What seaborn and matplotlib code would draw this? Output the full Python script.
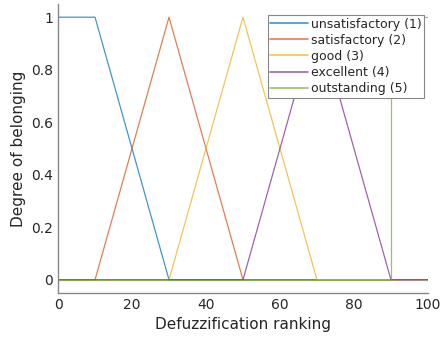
import pandas as pd
import matplotlib
matplotlib.use("Agg")
import matplotlib.pyplot as plt
import seaborn as sns

# membership functions (x breakpoints, y values)
x_unsat = [0, 10, 30, 100]
y_unsat = [1, 1, 0, 0]
x_sat = [0, 10, 30, 50, 100]
y_sat = [0, 0, 1, 0, 0]
x_good = [0, 30, 50, 70, 100]
y_good = [0, 0, 1, 0, 0]
x_exc = [0, 50, 70, 90, 100]
y_exc = [0, 0, 1, 0, 0]
x_out = [0, 90, 90, 100]
y_out = [0, 0, 1, 1]

labels = ["unsatisfactory (1)", "satisfactory (2)", "good (3)", "excellent (4)", "outstanding (5)"]
colors = ["#0072BD", "#D95319", "#EDB120", "#7E2F8E", "#77AC30"]

series = [(x_unsat, y_unsat), (x_sat, y_sat), (x_good, y_good), (x_exc, y_exc), (x_out, y_out)]
frames = [pd.DataFrame({"x": xs, "y": ys, "mf": lab}) for (xs, ys), lab in zip(series, labels)]
df = pd.concat(frames, ignore_index=True)

sns.set_style("white")
plt.rcParams["font.family"] = ["DejaVu Sans"]
fig = plt.figure(figsize=(4.43, 3.39), dpi=100)
ax = fig.add_axes([0.131, 0.136, 0.835, 0.852])

sns.lineplot(data=df, x="x", y="y", hue="mf", hue_order=labels,
             palette=dict(zip(labels, colors)), sort=False, estimator=None,
             linewidth=0.9, alpha=0.75, ax=ax)

ax.set_xlim(0, 100)
ax.set_ylim(-0.05, 1.05)
ax.set_xticks([0, 20, 40, 60, 80, 100])
ax.set_yticks([0, 0.2, 0.4, 0.6, 0.8, 1])
ax.set_yticklabels(["0", "0.2", "0.4", "0.6", "0.8", "1"])
ax.set_xlabel("Defuzzification ranking", fontsize=11, color="#262626")
ax.set_ylabel("Degree of belonging", fontsize=11, color="#262626")
ax.tick_params(direction="in", length=3, labelsize=10, colors="#262626", width=0.6)
for s in ["top", "right"]:
    ax.spines[s].set_visible(False)
for s in ["left", "bottom"]:
    ax.spines[s].set_color("#888888")
    ax.spines[s].set_linewidth(1.0)

leg = ax.legend(loc="upper right", bbox_to_anchor=(0.99, 0.962), borderaxespad=0,
                fontsize=9, frameon=True, fancybox=False, handlelength=3.0,
                labelspacing=0.25, borderpad=0.2, handletextpad=0.25)
leg.get_frame().set_edgecolor("#888888")
leg.get_frame().set_linewidth(0.8)
leg.get_frame().set_alpha(1)
for t in leg.get_texts():
    t.set_color("#262626")
for h, c in zip(leg.get_lines(), colors):
    h.set_color(c)
    h.set_alpha(0.75)
    h.set_linewidth(1.2)

fig.savefig("out.png", dpi=100)
